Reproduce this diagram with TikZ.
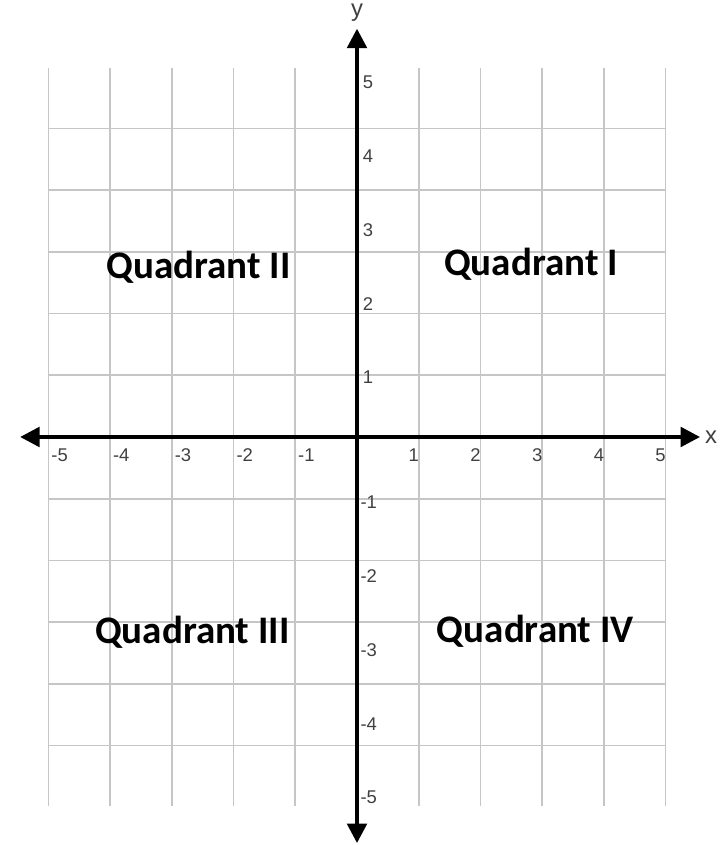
\documentclass[tikz,border=0pt]{standalone}
\usepackage{fontspec}
\setmainfont{Carlito}
\newfontfamily\tickfont{Liberation Sans}
\usetikzlibrary{arrows.meta}
\tikzset{
  gridline/.style={gray!45, line width=0.8pt},
  axisline/.style={line width=1.8pt, -{Triangle[length=9pt,width=9pt]}},
  ticklabel/.style={font=\tickfont\fontsize{8.5}{10}\selectfont, text=black!75, inner sep=0pt},
  axislabel/.style={font=\tickfont\fontsize{11}{13}\selectfont, text=black!75, inner sep=0pt},
  quadlabel/.style={font=\bfseries\fontsize{18}{20}\selectfont, inner sep=0pt}
}
\begin{document}
\begin{tikzpicture}[x=1cm, y=1.1945cm]
    \useasboundingbox (-5.786,-5.536) rectangle (5.932,5.929);
    % Grid
    \draw[gridline] (-5,-5) grid (5,5);
    % Coordinate
    \coordinate (xl) at (0,0);
    \coordinate (xr) at (5.56,0);
    \coordinate (xL) at (-5.46,0);
    \coordinate (yt) at (0,5.54);
    \coordinate (yb) at (0,-5.51);
    % Axes
    \draw[axisline] (xl) -- (xr);
    \draw[axisline] (xl) -- (xL);
    \draw[axisline] (xl) -- (yt);
    \draw[axisline] (xl) -- (yb);
    \node[axislabel] (xlab) at (5.74,0) {x};
    \node[axislabel] (ylab) at (0,5.76) {y};
    % Ticks
    \foreach \i in {1,...,5} {
        \node[ticklabel] (xp\i) at (\i-0.08,-0.245) {\i};
        \node[ticklabel] (xn\i) at (-\i+0.18,-0.245) {-\i};
        \node[ticklabel] (yp\i) at (0.18,\i-0.19) {\i};
        \node[ticklabel] (yn\i) at (0.19,-\i+0.11) {-\i};
    }
    % Quadrants
    \node[quadlabel] (q1) at (2.82,2.35) {Quadrant I};
    \node[quadlabel] (q2) at (-2.57,2.30) {Quadrant II};
    \node[quadlabel] (q3) at (-2.67,-2.65) {Quadrant III};
    \node[quadlabel] (q4) at (2.89,-2.63) {Quadrant IV};
\end{tikzpicture}
\end{document}
